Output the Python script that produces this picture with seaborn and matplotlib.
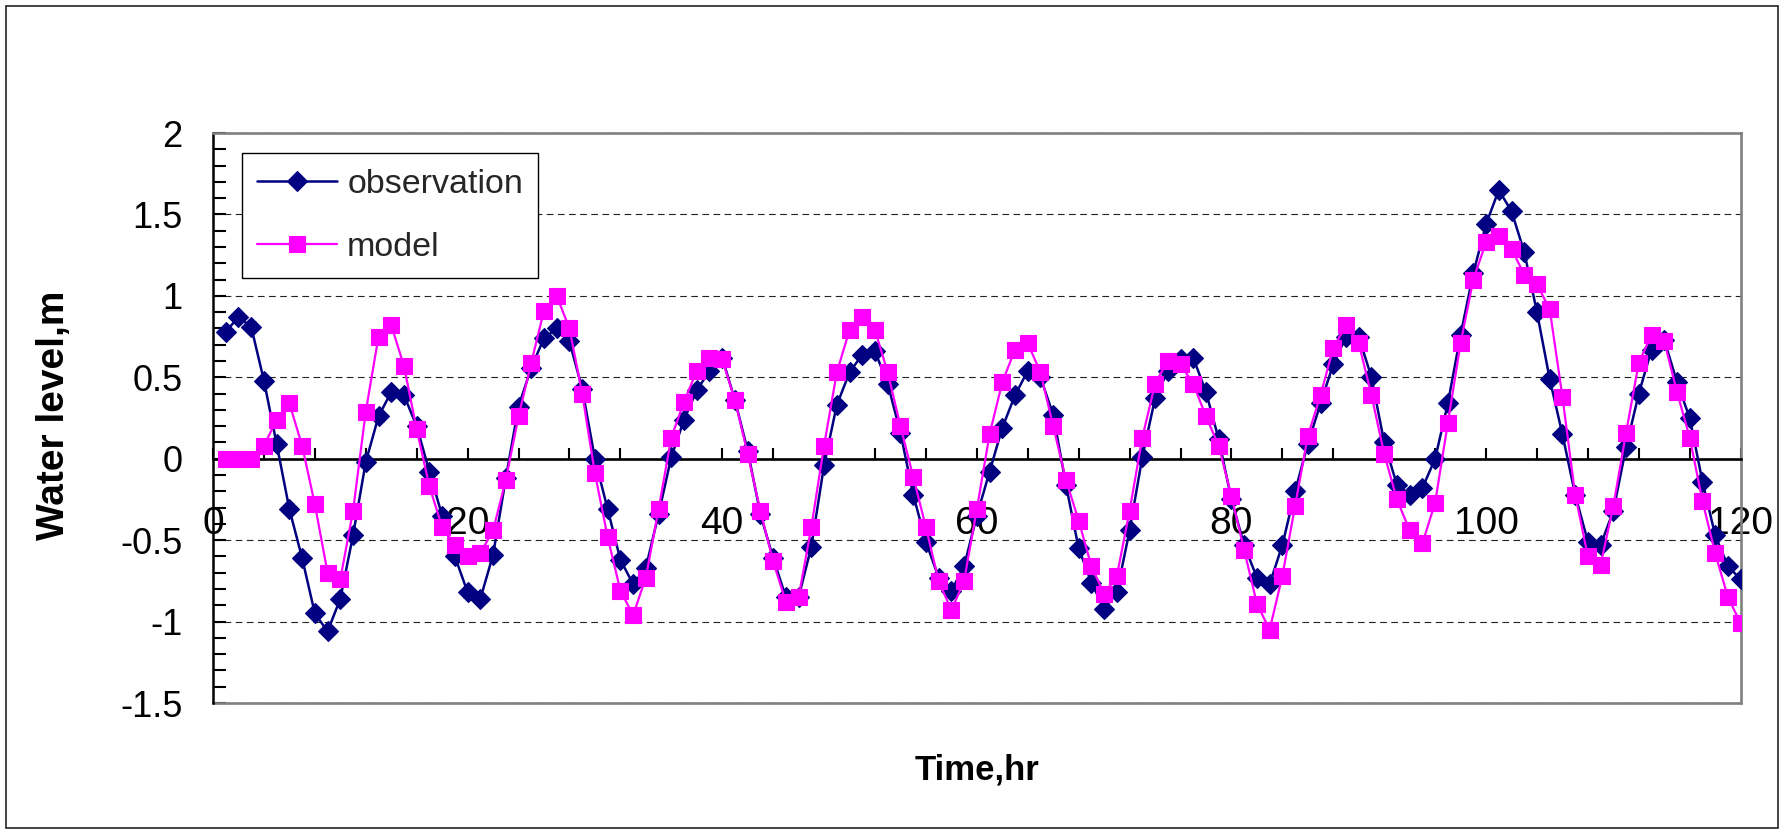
import matplotlib
matplotlib.use('Agg')
import matplotlib.pyplot as plt
import seaborn as sns
import pandas as pd
from matplotlib.patches import Rectangle
from matplotlib.ticker import MultipleLocator, FixedLocator

# ---------------- data ----------------
time_hr = list(range(1, 121))
observation = [
    0.78, 0.87, 0.81, 0.48, 0.09, -0.31, -0.61, -0.95, -1.06, -0.86,
    -0.47, -0.02, 0.26, 0.41, 0.39, 0.20, -0.08, -0.35, -0.60, -0.82,
    -0.86, -0.59, -0.12, 0.32, 0.56, 0.74, 0.80, 0.72, 0.43, 0.00,
    -0.31, -0.62, -0.77, -0.67, -0.34, 0.01, 0.24, 0.42, 0.54, 0.62,
    0.36, 0.05, -0.34, -0.61, -0.85, -0.85, -0.54, -0.04, 0.33, 0.53,
    0.64, 0.66, 0.46, 0.16, -0.22, -0.51, -0.73, -0.81, -0.66, -0.35,
    -0.08, 0.19, 0.39, 0.54, 0.50, 0.27, -0.16, -0.55, -0.76, -0.92,
    -0.82, -0.44, 0.01, 0.37, 0.54, 0.61, 0.62, 0.41, 0.12, -0.25,
    -0.53, -0.73, -0.77, -0.53, -0.20, 0.09, 0.34, 0.58, 0.75, 0.75,
    0.50, 0.10, -0.16, -0.22, -0.18, 0.00, 0.34, 0.76, 1.14, 1.44,
    1.65, 1.52, 1.27, 0.90, 0.49, 0.15, -0.22, -0.51, -0.53, -0.32,
    0.07, 0.40, 0.67, 0.73, 0.47, 0.25, -0.14, -0.47, -0.66, -0.74,
]
model = [
    0.00, 0.00, 0.00, 0.08, 0.24, 0.34, 0.08, -0.28, -0.70, -0.74,
    -0.32, 0.29, 0.75, 0.82, 0.57, 0.18, -0.17, -0.42, -0.53, -0.60,
    -0.58, -0.44, -0.13, 0.26, 0.59, 0.91, 1.00, 0.80, 0.40, -0.09,
    -0.48, -0.81, -0.96, -0.73, -0.31, 0.13, 0.35, 0.54, 0.62, 0.61,
    0.36, 0.03, -0.32, -0.63, -0.88, -0.85, -0.42, 0.08, 0.53, 0.79,
    0.87, 0.79, 0.53, 0.20, -0.11, -0.42, -0.75, -0.93, -0.75, -0.31,
    0.15, 0.47, 0.67, 0.71, 0.53, 0.20, -0.13, -0.38, -0.66, -0.83,
    -0.72, -0.32, 0.13, 0.46, 0.60, 0.58, 0.46, 0.26, 0.08, -0.23,
    -0.56, -0.89, -1.05, -0.72, -0.29, 0.14, 0.39, 0.68, 0.82, 0.71,
    0.39, 0.03, -0.25, -0.44, -0.52, -0.27, 0.22, 0.71, 1.10, 1.33,
    1.37, 1.29, 1.13, 1.07, 0.92, 0.38, -0.22, -0.60, -0.65, -0.29,
    0.16, 0.59, 0.76, 0.72, 0.41, 0.13, -0.26, -0.58, -0.85, -1.01,
]
series_names = ['observation', 'model']
x_ticks = [0, 20, 40, 60, 80, 100, 120]
x_tick_labels = ['0', '20', '40', '60', '80', '100', '120']
y_ticks = [-1.5, -1, -0.5, 0, 0.5, 1, 1.5, 2]
y_tick_labels = ['-1.5', '-1', '-0.5', '0', '0.5', '1', '1.5', '2']
x_label = 'Time,hr'
y_label = 'Water level,m'

df = pd.DataFrame({
    'Time': time_hr + time_hr,
    'level': observation + model,
    'series': [series_names[0]] * len(time_hr) + [series_names[1]] * len(time_hr),
})

# ---------------- style ----------------
sns.set_style('white')
plt.rcParams['font.family'] = ['Liberation Sans', 'DejaVu Sans']
plt.rcParams['axes.unicode_minus'] = False

fig = plt.figure(figsize=(17.84, 8.32), dpi=100)
ax = fig.add_axes([0.1194, 0.155, 0.8563, 0.6851])

navy = '#000080'
magenta = '#FF00FF'

sns.lineplot(data=df[df.series == series_names[0]], x='Time', y='level',
             color=navy, marker='D', markersize=10, markeredgecolor=navy,
             markeredgewidth=0.8, linewidth=1.8, estimator=None,
             label=series_names[0], ax=ax, zorder=3)
sns.lineplot(data=df[df.series == series_names[1]], x='Time', y='level',
             color=magenta, marker='s', markersize=12, markeredgecolor=magenta,
             markeredgewidth=0.8, linewidth=1.6, estimator=None,
             label=series_names[1], ax=ax, zorder=4)

ax.set_xlim(0, 120)
ax.set_ylim(-1.5, 2)

# spines
ax.spines['bottom'].set_position(('data', 0))
ax.spines['bottom'].set_color('black')
ax.spines['bottom'].set_linewidth(1.9)
ax.spines['left'].set_color('black')
ax.spines['left'].set_linewidth(1.8)
for s in ['top', 'right']:
    ax.spines[s].set_color('#808080')
    ax.spines[s].set_linewidth(1.9)
ax.plot([0, 1], [0, 0], transform=ax.transAxes, color='#808080', lw=1.9,
        clip_on=False, zorder=2.5)

# ticks
ax.xaxis.set_major_locator(FixedLocator(x_ticks))
ax.set_xticklabels(x_tick_labels)
ax.xaxis.set_minor_locator(MultipleLocator(4))
ax.yaxis.set_major_locator(FixedLocator(y_ticks))
ax.set_yticklabels(y_tick_labels)
ax.yaxis.set_minor_locator(MultipleLocator(0.1))
ax.tick_params(axis='x', which='both', bottom=True, top=False, direction='in',
               length=8, width=1.5, color='black')
ax.tick_params(axis='x', which='major', pad=34, labelsize=28, labelcolor='black')
ax.tick_params(axis='y', which='both', left=True, right=False, direction='in',
               length=9, width=1.5, color='black')
ax.tick_params(axis='y', which='major', pad=22, labelsize=26, labelcolor='black')

ax.grid(axis='y', which='major', linestyle=(0, (6, 4)), color='#222222', lw=0.8)
ax.grid(axis='x', visible=False)
ax.set_axisbelow(True)

# labels
ax.set_xlabel(x_label, fontsize=25, fontweight='bold', color='black')
ax.xaxis.set_label_coords(0.5004, -0.089)
ax.set_ylabel(y_label, fontsize=28, fontweight='bold', color='black')
ax.yaxis.set_label_coords(-0.092, 0.505)

# legend
leg = ax.legend(loc='upper left', bbox_to_anchor=(0.0188, 0.9644), borderaxespad=0,
                frameon=True, fancybox=False, edgecolor='black', framealpha=1,
                fontsize=24.5, handlelength=2.35, handletextpad=0.3,
                labelspacing=0.95, borderpad=0.45)
leg.get_frame().set_linewidth(1.0)

# figure border
fig.add_artist(Rectangle((6 / 1784, 4 / 832), (1778 - 6) / 1784, (826 - 4) / 832,
                         transform=fig.transFigure, fill=False,
                         edgecolor='#222222', lw=1.2))

fig.savefig('out.png', dpi=100)
